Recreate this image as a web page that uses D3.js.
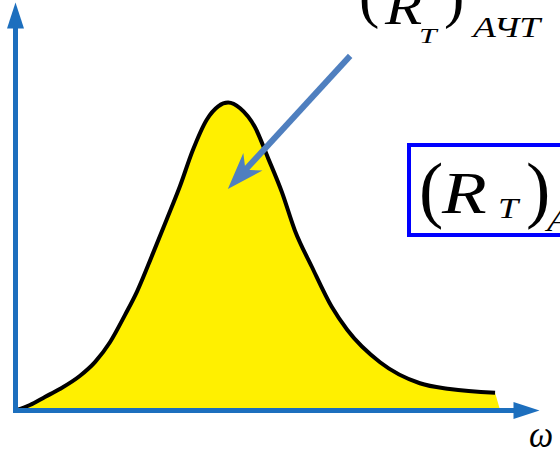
<!DOCTYPE html>
<html>
<head>
<meta charset="utf-8">
<script src="https://cdn.jsdelivr.net/npm/d3@7"></script>
<style>
    body { margin: 0; background: #fff; }
    svg { display: block; }
    .lbl { font-family: "Liberation Serif", "DejaVu Serif", serif; fill: #000; }
</style>
</head>
<body>
<div id="chart"></div>
<script>
"use strict";

// frequency (omega) and thermal resistance, arbitrary 0..100 units
var omega = [0.4, 3, 6, 9, 13, 16.1, 19.1, 22.1, 24.5, 27.7, 30.5, 33.1, 35.7, 38.5,
    40.8, 42.8, 45.2, 48.2, 50.8, 53.6, 56.2, 59.6, 63.6, 66.7, 73.3, 81.3, 87.3, 96.4];
var response = [0, 1.3, 3.4, 5.5, 8.9, 12.6, 17.8, 24.9, 31, 41, 50, 58.5, 68, 76,
    79.5, 80.5, 79, 74, 66, 57, 47, 37.5, 27, 21, 12.5, 7, 5.5, 4.5];

// pointer arrow (start, end) in the same units
var pointerOmega = [67.3, 44.1];
var pointerR = [92.7, 59.8];

// label pieces: "(R_T)_АЧТ"
var labelParts = ["(", "R", "T", ")", "АЧТ"];
var axisTitle = "ω";

(function () {
    var width = 560,
        height = 452,
        axisColor = "#1d6fbe",
        pointerColor = "#4f7fbf",
        svg,
        defs,
        x,
        y,
        points,
        last,
        area,
        line;

    svg = d3.select("#chart").append("svg")
        .attr("width", width)
        .attr("height", height);

    defs = svg.append("defs");

    defs.append("marker")
        .attr("id", "axisHead")
        .attr("markerUnits", "userSpaceOnUse")
        .attr("orient", "auto")
        .attr("markerWidth", 30)
        .attr("markerHeight", 20)
        .attr("refX", 0)
        .attr("refY", 0)
        .style("overflow", "visible")
        .append("path")
        .attr("d", "M26,0 L0,-8.5 L0,8.5 Z")
        .attr("fill", axisColor);

    defs.append("marker")
        .attr("id", "pointerHead")
        .attr("markerUnits", "userSpaceOnUse")
        .attr("orient", "auto")
        .attr("markerWidth", 40)
        .attr("markerHeight", 30)
        .attr("refX", 0)
        .attr("refY", 0)
        .style("overflow", "visible")
        .append("path")
        .attr("d", "M10,0 L-27,-13 L-16,0 L-27,13 Z")
        .attr("fill", pointerColor);

    x = d3.scaleLinear().domain([0, 100]).range([15, 513]);
    y = d3.scaleLinear().domain([0, 100]).range([410, 28]);

    points = omega.map(function (w, i) {
        return { w: w, r: response[i] };
    });
    last = points.length - 1;

    area = d3.area()
        .curve(d3.curveMonotoneX)
        .x0(function (d, i) { return x(i === last ? d.w + 1 : d.w); })
        .x1(function (d) { return x(d.w); })
        .y0(y(0))
        .y1(function (d) { return y(d.r); });

    line = d3.line()
        .curve(d3.curveMonotoneX)
        .x(function (d) { return x(d.w); })
        .y(function (d) { return y(d.r); });

    svg.append("path")
        .datum(points)
        .attr("d", area)
        .attr("fill", "#fff000");

    svg.append("path")
        .datum(points)
        .attr("d", line)
        .attr("fill", "none")
        .attr("stroke", "#000")
        .attr("stroke-width", 4)
        .attr("stroke-linejoin", "round");

    // axes: no ticks, just the domain lines with arrow heads
    svg.append("g")
        .attr("class", "x axis")
        .attr("transform", "translate(0," + y(0) + ")")
        .call(d3.axisBottom(x).tickValues([]).tickSizeOuter(0))
        .select(".domain")
            .attr("stroke", axisColor)
            .attr("stroke-width", 5)
            .attr("stroke-linecap", "square")
            .attr("marker-end", "url(#axisHead)");

    svg.append("g")
        .attr("class", "y axis")
        .attr("transform", "translate(" + x(0) + ",0)")
        .call(d3.axisLeft(y).tickValues([]).tickSizeOuter(0))
        .select(".domain")
            .attr("stroke", axisColor)
            .attr("stroke-width", 5)
            .attr("stroke-linecap", "square")
            .attr("marker-end", "url(#axisHead)");

    svg.append("line")
        .attr("x1", x(pointerOmega[0]))
        .attr("y1", y(pointerR[0]))
        .attr("x2", x(pointerOmega[1]))
        .attr("y2", y(pointerR[1]))
        .attr("stroke", pointerColor)
        .attr("stroke-width", 6)
        .attr("marker-end", "url(#pointerHead)");

    // boxed copy of the label, runs off the right edge
    svg.append("rect")
        .attr("x", 409)
        .attr("y", 145)
        .attr("width", 200)
        .attr("height", 90)
        .attr("fill", "#fff")
        .attr("stroke", "#0000ff")
        .attr("stroke-width", 4);

    // x, baseline, size, italic, horizontal stretch
    drawLabel([
        [359, 16, 61, false, 1],
        [385, 24, 50, true, 1.22],
        [419, 43, 21, true, 1.5],
        [444, 16, 61, false, 1],
        [473, 37, 30, true, 1.25]
    ]);
    drawLabel([
        [419, 214, 73, false, 1],
        [442, 213, 60, true, 1.22],
        [498, 218, 29, true, 1.25],
        [526, 214, 73, false, 1],
        [547, 231, 32, true, 1.25]
    ]);

    svg.append("text")
        .attr("class", "lbl")
        .attr("transform", "translate(529,447) scale(0.9,1)")
        .style("font-size", "38px")
        .style("font-style", "italic")
        .text(axisTitle);

    function drawLabel(layout) {
        var g = svg.append("g");
        labelParts.forEach(function (part, i) {
            var p = layout[i];
            g.append("text")
                .attr("class", "lbl")
                .attr("transform", "translate(" + p[0] + "," + p[1] + ") scale(" + p[4] + ",1)")
                .style("font-size", p[2] + "px")
                .style("font-style", p[3] ? "italic" : "normal")
                .text(part);
        });
    }
}());
</script>
</body>
</html>
